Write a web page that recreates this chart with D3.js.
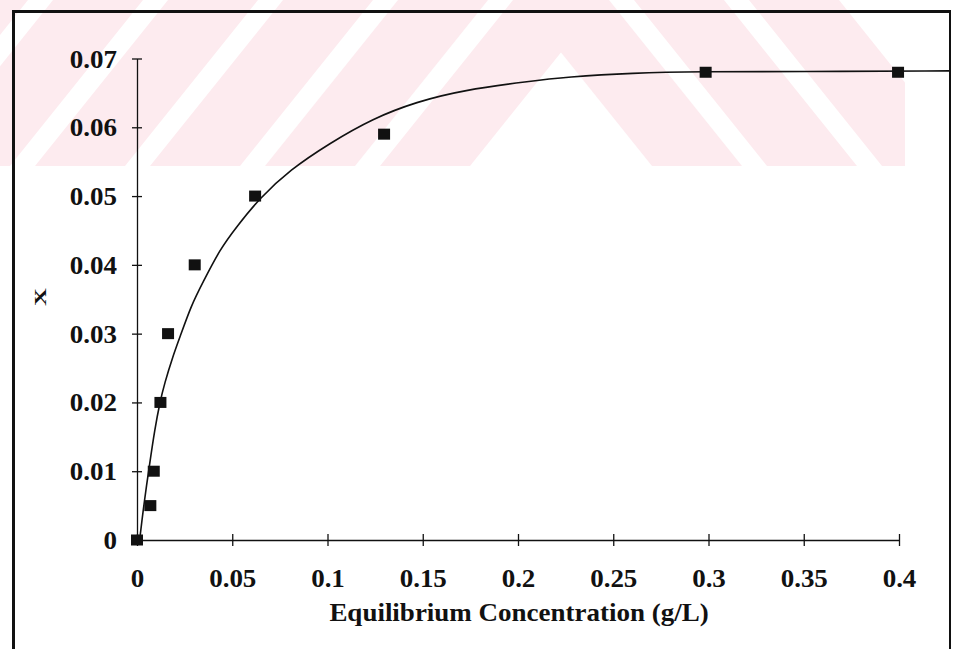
<!DOCTYPE html>
<html>
<head>
<meta charset="utf-8">
<script src="https://cdn.jsdelivr.net/npm/d3@7"></script>
<style>
  body { margin: 0; background: #fff; }
  svg { display: block; }
  text { font-family: "Liberation Serif", "Times New Roman", serif; font-weight: bold; fill: #111; }
</style>
</head>
<body>
<div class="chart-container"></div>
<script>
// measured points (equilibrium concentration g/L, X)
const concData = [0, 0.007, 0.0088, 0.0123, 0.0163, 0.0303, 0.062, 0.1297, 0.2985, 0.3995]
const xData = [0, 0.005, 0.01, 0.02, 0.03, 0.04, 0.05, 0.059, 0.068, 0.068]

// fitted curve
const fitConc = [0.0014, 0.0035, 0.0067, 0.0093, 0.0119, 0.0145, 0.0187, 0.0224, 0.0286, 0.0345,
  0.0434, 0.0522, 0.0644, 0.0802, 0.1012, 0.1239, 0.1467, 0.1711, 0.2061, 0.2254, 0.2602,
  0.2953, 0.3478, 0.4266]
const fitX = [0, 0.005, 0.0112, 0.016, 0.0199, 0.0228, 0.0266, 0.0294, 0.0342, 0.0374,
  0.0422, 0.0455, 0.0497, 0.0538, 0.0577, 0.0613, 0.0637, 0.0654, 0.0667, 0.0673, 0.0679,
  0.0681, 0.0681, 0.0682]

// axes
const xTicks = [0, 0.05, 0.1, 0.15, 0.2, 0.25, 0.3, 0.35, 0.4]
const xTickLabels = ['0', '0.05', '0.1', '0.15', '0.2', '0.25', '0.3', '0.35', '0.4']
const yTicks = [0, 0.01, 0.02, 0.03, 0.04, 0.05, 0.06, 0.07]
const yTickLabels = ['0', '0.01', '0.02', '0.03', '0.04', '0.05', '0.06', '0.07']

const svg_width = 953
const svg_height = 649
const fontSize = 25
const stretch = 1.08 // the scan is a bit wider than tall

const svg = d3.select('.chart-container').append('svg')
  .attr('width', svg_width).attr('height', svg_height)

// pink watermark band at the top
const band = 166
const slant = 133
const stripeW = 90
svg.append('clipPath').attr('id', 'band')
  .append('rect').attr('x', 0).attr('y', 0).attr('width', 905).attr('height', band)
const wm = svg.append('g').attr('clip-path', 'url(#band)').style('fill', '#fdebef')
;[-195, -80, 35, 150, 265, 380].forEach(b => {
  wm.append('polygon').attr('points',
    `${b},${band} ${b + stripeW},${band} ${b + stripeW + slant},0 ${b + slant},0`)
})
;[519, 634, 749].forEach(t => {
  wm.append('polygon').attr('points',
    `${t},0 ${t + stripeW},0 ${t + stripeW + slant},${band} ${t + slant},${band}`)
})

// frame
const frame = svg.append('g').style('stroke', '#111').style('fill', 'none')
frame.append('line').attr('x1', 12).attr('x2', 951).attr('y1', 11.5).attr('y2', 11.5).style('stroke-width', 3)
frame.append('line').attr('x1', 13.5).attr('x2', 13.5).attr('y1', 10).attr('y2', svg_height).style('stroke-width', 3)
frame.append('line').attr('x1', 950).attr('x2', 950).attr('y1', 10).attr('y2', svg_height).style('stroke-width', 2)

//scale
const xScale = d3.scaleLinear([0, 0.4], [137, 899])
const yScale = d3.scaleLinear([0, 0.07], [540, 58.5])

// y axis
const yAxis = d3.axisLeft(yScale).tickValues(yTicks)
  .tickFormat((d, i) => yTickLabels[i]).tickSizeOuter(0)
const yAxisDraw = svg.append('g').attr('class', 'y axis')
  .attr('transform', `translate(${xScale(0)}, 0)`)
  .call(yAxis)
yAxisDraw.attr('font-size', fontSize).attr('font-family', null).style('color', '#111')
yAxisDraw.select('.domain').style('stroke-width', 1.3)
yAxisDraw.selectAll('.tick line').attr('x1', -5).attr('x2', 5).style('stroke-width', 1.3)
yAxisDraw.selectAll('.tick text')
  .attr('x', -20 / stretch).attr('dy', '0.34em')
  .attr('transform', `scale(${stretch},1)`)

// x axis
const xAxis = d3.axisBottom(xScale).tickValues(xTicks)
  .tickFormat((d, i) => xTickLabels[i]).tickSizeOuter(0)
const xAxisDraw = svg.append('g').attr('class', 'x axis')
  .attr('transform', `translate(0, ${yScale(0)})`)
  .call(xAxis)
xAxisDraw.attr('font-size', fontSize).attr('font-family', null).style('color', '#111')
xAxisDraw.select('.domain').style('stroke-width', 1.3)
xAxisDraw.selectAll('.tick line').attr('y1', -6).attr('y2', 6).style('stroke-width', 1.3)
xAxisDraw.selectAll('.tick text')
  .attr('y', 47).attr('dy', 0)
  .attr('transform', `scale(${stretch},1)`)

// axis titles
svg.append('text')
  .attr('transform', `translate(519, 621) scale(${stretch},1)`)
  .attr('text-anchor', 'middle').attr('font-size', fontSize)
  .text('Equilibrium Concentration (g/L)')
svg.append('text')
  .attr('transform', 'translate(40, 297) rotate(-90) scale(1.45,1)')
  .attr('text-anchor', 'middle').attr('dy', '0.33em').attr('font-size', 17)
  .text('X')

// fitted curve
svg.append('clipPath').attr('id', 'plot')
  .append('rect').attr('x', 15).attr('y', 13).attr('width', 934).attr('height', 600)
const fitLine = d3.line()
  .x((d, i) => xScale(fitConc[i]))
  .y(d => yScale(d))
  .curve(d3.curveBasis)
svg.append('path')
  .attr('clip-path', 'url(#plot)')
  .attr('d', fitLine(fitX))
  .style('fill', 'none').style('stroke', '#111').style('stroke-width', 1.6)

// measured points
const mw = 12, mh = 11
svg.append('g').attr('class', 'points')
  .selectAll('rect').data(xData).join('rect')
  .attr('x', (d, i) => xScale(concData[i]) - mw / 2)
  .attr('y', d => yScale(d) - mh / 2)
  .attr('width', mw).attr('height', mh)
  .style('fill', '#111')
</script>
</body>
</html>
